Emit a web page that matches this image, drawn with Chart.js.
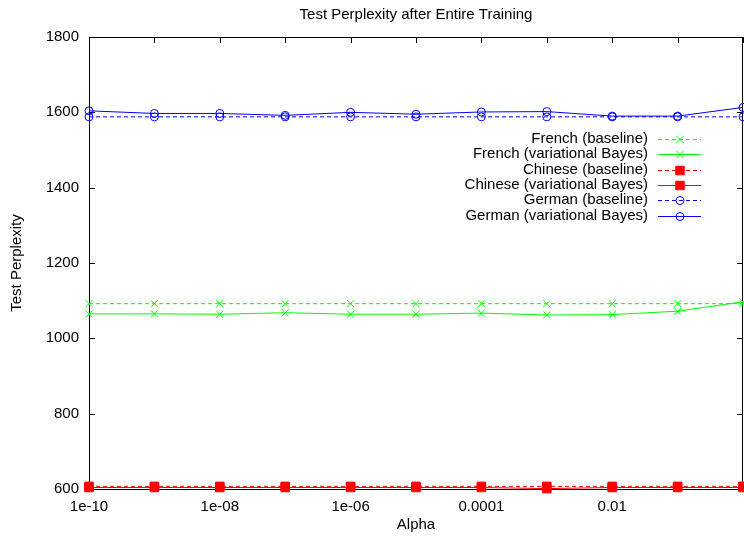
<!DOCTYPE html>
<html lang="en">
<head>
  <meta charset="UTF-8">
  <title>Test Perplexity after Entire Training</title>
  <script src="https://cdn.jsdelivr.net/npm/chart.js"></script>
  <style>
    body { margin: 0; background: #fff; }
  </style>
</head>
<body>
  <canvas id="perplexityChart" width="744" height="539"></canvas>

  <script>
    // alpha values (log x axis)
    const alphas = [1e-10, 1e-9, 1e-8, 1e-7, 1e-6, 1e-5, 1e-4, 1e-3, 1e-2, 1e-1, 1];
    const xTickLabels = ['1e-10', '', '1e-08', '', '1e-06', '', '0.0001', '', '0.01', '', ''];
    const yTicks = [600, 800, 1000, 1200, 1400, 1600, 1800];

    // perplexity
    const frenchBaseline = [1092, 1092, 1092, 1092, 1092, 1092, 1092, 1092, 1092, 1092, 1092];
    const frenchVB = [1065, 1065, 1064, 1068, 1064, 1064, 1067, 1062, 1063, 1072, 1097];
    const chineseBaseline = [607, 607, 607, 607, 607, 607, 607, 607, 607, 607, 607];
    const chineseVB = [604, 604, 604, 604, 604, 604, 604, 601, 604, 604, 604];
    const germanBaseline = [1588, 1588, 1588, 1588, 1588, 1588, 1588, 1588, 1588, 1588, 1588];
    const germanVB = [1604, 1597, 1597, 1592, 1600, 1595, 1601, 1602, 1590, 1590, 1613];

    const FONT = 'Liberation Sans, Arial, Helvetica, sans-serif';

    function points(values) {
      return values.map((v, i) => ({ x: alphas[i], y: v }));
    }

    function series(label, values, color, dashed, style, radius, fill) {
      return {
        label: label,
        data: points(values),
        borderColor: color,
        borderWidth: 1,
        borderDash: dashed ? [4, 3] : [],
        pointStyle: style,
        pointRadius: radius,
        pointHoverRadius: radius,
        pointBorderColor: color,
        pointBorderWidth: 1,
        pointBackgroundColor: fill ? color : 'transparent',
        tension: 0,
        fill: false,
        clip: false
      };
    }

    // border box with inward ticks, gnuplot style
    const frame = {
      id: 'frame',
      beforeDatasetsDraw(chart) {
        const { ctx, chartArea: a } = chart;
        const xs = chart.scales.x, ys = chart.scales.y;
        ctx.save();
        ctx.strokeStyle = '#000';
        ctx.lineWidth = 1;
        ctx.beginPath();
        ctx.rect(Math.round(a.left) + 0.5, Math.round(a.top) + 0.5,
          Math.round(a.right - a.left) - 1, Math.round(a.bottom - a.top));
        yTicks.forEach(v => {
          const y = Math.round(ys.getPixelForValue(v)) + 0.5;
          ctx.moveTo(a.left, y); ctx.lineTo(a.left + 6, y);
          ctx.moveTo(a.right, y); ctx.lineTo(a.right - 6, y);
        });
        alphas.forEach(v => {
          const x = Math.round(xs.getPixelForValue(v)) + 0.5;
          ctx.moveTo(x, a.bottom); ctx.lineTo(x, a.bottom - 6);
          ctx.moveTo(x, a.top); ctx.lineTo(x, a.top + 6);
        });
        ctx.stroke();
        ctx.restore();
      }
    };

    // legend: right-aligned text, sample line on the right
    const sideLegend = {
      id: 'sideLegend',
      afterDraw(chart) {
        const ctx = chart.ctx;
        ctx.save();
        ctx.font = '15px ' + FONT;
        ctx.textAlign = 'right';
        ctx.textBaseline = 'middle';
        chart.data.datasets.forEach((ds, i) => {
          const y = 139 + i * 15.3;
          ctx.fillStyle = '#000';
          ctx.fillText(ds.label, 648, y);
          ctx.strokeStyle = ds.borderColor;
          ctx.lineWidth = 1;
          ctx.setLineDash(ds.borderDash);
          ctx.beginPath();
          ctx.moveTo(658, Math.round(y) + 0.5);
          ctx.lineTo(701, Math.round(y) + 0.5);
          ctx.stroke();
          ctx.setLineDash([]);
          ctx.fillStyle = ds.pointBackgroundColor;
          Chart.helpers.drawPoint(ctx, {
            pointStyle: ds.pointStyle,
            radius: ds.pointRadius,
            borderWidth: 1,
            rotation: 0
          }, 680, Math.round(y) + 0.5);
        });
        ctx.restore();
      }
    };

    const ctx = document.getElementById('perplexityChart').getContext('2d');
    new Chart(ctx, {
      type: 'line',
      data: {
        datasets: [
          series('French (baseline)', frenchBaseline, '#00ff00', true, 'crossRot', 5, false),
          series('French (variational Bayes)', frenchVB, '#00ff00', false, 'crossRot', 5, false),
          series('Chinese (baseline)', chineseBaseline, '#ff0000', true, 'rect', 6, true),
          series('Chinese (variational Bayes)', chineseVB, '#ff0000', false, 'rect', 6, true),
          series('German (baseline)', germanBaseline, '#0000ff', true, 'circle', 4, false),
          series('German (variational Bayes)', germanVB, '#0000ff', false, 'circle', 4, false)
        ]
      },
      options: {
        responsive: false,
        animation: false,
        layout: { autoPadding: false, padding: { left: 0, right: 1, top: 0, bottom: 0 } },
        plugins: {
          legend: { display: false },
          tooltip: { enabled: false },
          title: {
            display: true,
            fullSize: false,
            text: 'Test Perplexity after Entire Training',
            color: '#000',
            font: { family: FONT, size: 15, weight: 'normal', lineHeight: 1.2 },
            padding: { top: 6, bottom: 13 }
          }
        },
        scales: {
          x: {
            type: 'logarithmic',
            min: 1e-10,
            max: 1,
            grid: { display: false, drawTicks: false },
            border: { display: false },
            afterBuildTicks(scale) {
              scale.ticks = alphas.map(v => ({ value: v }));
            },
            afterFit(scale) {
              scale.height = 50;
              scale.paddingLeft = 0;
              scale.paddingRight = 0;
            },
            ticks: {
              autoSkip: false,
              maxRotation: 0,
              padding: 9,
              color: '#000',
              font: { family: FONT, size: 15 },
              callback: (value, index) => xTickLabels[index]
            },
            title: {
              display: true,
              text: 'Alpha',
              color: '#000',
              font: { family: FONT, size: 15, lineHeight: 1.2 },
              padding: { top: 5, bottom: 5 }
            }
          },
          y: {
            min: 600,
            max: 1800,
            grid: { display: false, drawTicks: false },
            border: { display: false },
            afterFit(scale) {
              scale.width = 89;
              scale.paddingTop = 0;
              scale.paddingBottom = 0;
            },
            ticks: {
              stepSize: 200,
              padding: 10,
              color: '#000',
              font: { family: FONT, size: 15 },
              callback: value => String(value)
            },
            title: {
              display: true,
              text: 'Test Perplexity',
              color: '#000',
              font: { family: FONT, size: 15, lineHeight: 1.2 },
              padding: { top: 8, bottom: 0 }
            }
          }
        }
      },
      plugins: [frame, sideLegend]
    });
  </script>
</body>
</html>
